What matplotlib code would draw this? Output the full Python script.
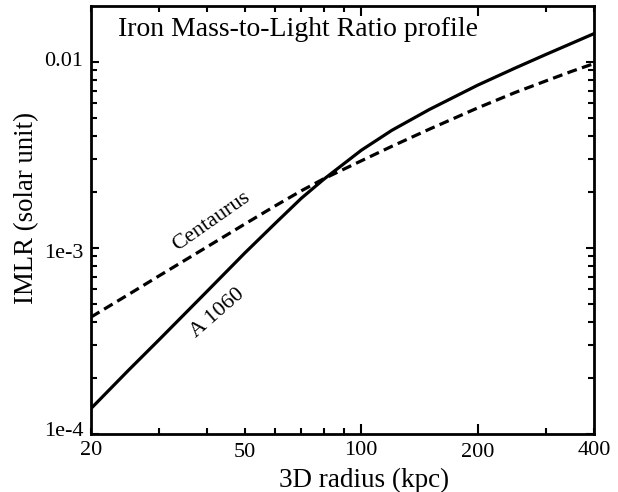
import numpy as np
import matplotlib
matplotlib.use("Agg")
import matplotlib.pyplot as plt
from matplotlib.ticker import FixedLocator, NullFormatter
from matplotlib.transforms import ScaledTranslation

# IMLR profiles
radius = [20, 25, 30, 40, 50, 60, 70, 80, 100, 120, 150, 200, 250, 300, 350, 400]
a1060 = [1.37e-4, 2.2e-4, 3.21e-4, 5.87e-4, 9.4e-4, 1.36e-3, 1.85e-3, 2.34e-3,
         3.35e-3, 4.29e-3, 5.55e-3, 7.5e-3, 9.27e-3, 1.096e-2, 1.259e-2, 1.42e-2]
centaurus = [4.25e-4, 5.62e-4, 7.08e-4, 1.016e-3, 1.345e-3, 1.687e-3, 2.03e-3, 2.355e-3,
             2.94e-3, 3.52e-3, 4.35e-3, 5.66e-3, 6.85e-3, 7.9e-3, 8.9e-3, 9.8e-3]

xtick_vals = [20, 50, 100, 200, 400]
xtick_labels = ["20", "50", "100", "200", "400"]
ytick_vals = [1e-4, 1e-3, 1e-2]
ytick_labels = ["1e-4", "1e-3", "0.01"]

plt.rcParams['font.family'] = ['Liberation Serif', 'DejaVu Serif']

fig = plt.figure(figsize=(6.18, 4.92), dpi=100)
ax = fig.add_axes([0.1472, 0.1179, 0.814, 0.870])

ax.plot(radius, a1060, color="black", linewidth=2.3)
ax.plot(radius, centaurus, color="black", linewidth=2.3, linestyle=(0, (3.1, 1.7)))

ax.set_xscale("log")
ax.set_yscale("log")
ax.set_xlim(20, 400)
ax.set_ylim(1e-4, 0.02)

ax.xaxis.set_major_locator(FixedLocator(xtick_vals))
ax.set_xticklabels(xtick_labels)
ax.xaxis.set_minor_locator(FixedLocator([30, 40, 60, 70, 80, 90, 300]))
ax.xaxis.set_minor_formatter(NullFormatter())
ax.yaxis.set_major_locator(FixedLocator(ytick_vals))
ax.set_yticklabels(ytick_labels)
ax.yaxis.set_minor_locator(FixedLocator([m * 10.0 ** e for e in (-4, -3) for m in range(2, 10)]))
ax.yaxis.set_minor_formatter(NullFormatter())

ax.tick_params(which="both", direction="in", top=True, right=True, width=1.5, labelsize=16)
ax.tick_params(axis="y", which="major", length=6, pad=5.5)
ax.tick_params(which="minor", length=4)
ax.tick_params(axis="x", which="major", length=4, pad=5)
for t in ax.xaxis.get_major_ticks():
    if t.get_loc() in (100, 200):
        t.tick1line.set_markersize(7.2)
        t.tick2line.set_markersize(7.2)
# the original has slightly dropped labels at 50 and 200
for lab in ax.get_xticklabels():
    if lab.get_text() in ("50", "200"):
        lab.set_y(-0.005)
# small vertical offsets of the y labels in the original (points)
shift = {"1e-4": 3.5, "1e-3": -2, "0.01": 2}
for lab in ax.get_yticklabels():
    dy = shift.get(lab.get_text(), 0)
    lab.set_transform(lab.get_transform() + ScaledTranslation(0, dy / 72, fig.dpi_scale_trans))

for s in ax.spines.values():
    s.set_linewidth(2)

fig.text(364 / 618, 1 - 487 / 492, "3D radius (kpc)", fontsize=19.5, ha="center", va="baseline")
fig.text(27 / 618, 1 - 208.5 / 492, "IMLR (solar unit)", fontsize=19.3, rotation=90,
         ha="center", va="center")
fig.text(118 / 618, 1 - 36 / 492, "Iron Mass-to-Light Ratio profile", fontsize=20,
         ha="left", va="baseline")

ax.text(41, 1.38e-3, "Centaurus", fontsize=16, rotation=35, ha="center", va="center")
ax.text(42.5, 4.45e-4, "A 1060", fontsize=16, rotation=41, ha="center", va="center")

fig.savefig("out.png", dpi=100)
